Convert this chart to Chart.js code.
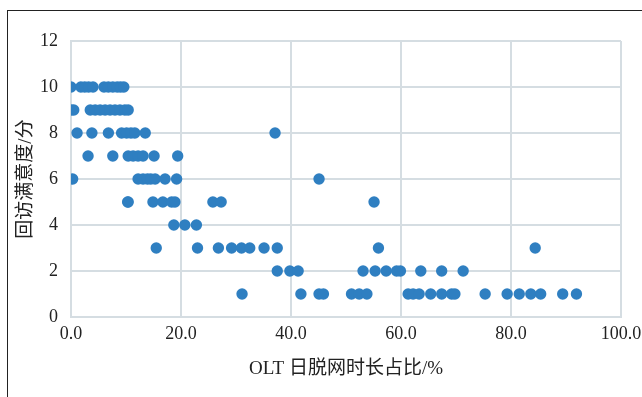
<!DOCTYPE html>
<html>
<head>
<meta charset="utf-8">
<script src="https://cdn.jsdelivr.net/npm/chart.js@4/dist/chart.umd.min.js"></script>
<style>
  html, body { margin: 0; padding: 0; background: #fff; }
  #wrap { position: relative; width: 642px; height: 397px; overflow: hidden; }
  #frame { position: absolute; left: 7px; top: 10px; width: 700px; height: 500px;
           border-left: 1px solid #222; border-top: 1px solid #222; }
  canvas { position: absolute; left: 0; top: 0; }
</style>
</head>
<body>
<div id="wrap">
  <div id="frame"></div>
  <canvas id="c" width="642" height="397"></canvas>
</div>
<script>
// OLT daily offline share (%) of each sample, grouped by its follow-up satisfaction score
const score10 = [0, 1.8, 2.5, 3.2, 4.0, 6.0, 6.8, 7.6, 8.4, 9.0, 9.6];
const score9  = [0, 0.5, 3.5, 4.4, 5.3, 6.2, 7.1, 8.0, 8.9, 9.8, 10.4];
const score8  = [1.1, 3.8, 6.8, 9.2, 10.1, 10.9, 11.6, 13.5, 37.1];
const score7  = [3.1, 7.6, 10.4, 11.3, 12.2, 13.1, 15.1, 19.4];
const score6  = [0.3, 12.2, 13.1, 13.9, 14.5, 15.3, 17.1, 19.2, 45.1];
const score5  = [10.3, 10.4, 14.9, 16.7, 18.3, 18.9, 25.8, 27.3, 55.1];
const score4  = [18.7, 20.7, 22.8];
const score3  = [15.5, 23.0, 26.8, 29.2, 31.0, 32.5, 35.1, 37.5, 55.9, 84.4];
const score2  = [37.5, 39.8, 41.3, 53.1, 55.3, 57.3, 59.2, 59.9, 63.6, 67.4, 71.3];
const score1  = [31.1, 41.8, 45.1, 45.9, 51.0, 52.4, 53.8, 61.3, 62.2, 63.3, 65.4,
                 67.4, 69.2, 69.8, 75.3, 79.3, 81.5, 83.6, 85.4, 89.4, 91.9];

const scoreGroups = [
  [10, score10], [9, score9], [8, score8], [7, score7], [6, score6],
  [5, score5], [4, score4], [3, score3], [2, score2], [1, score1]
];

const xTicks = [0, 20, 40, 60, 80, 100];
const yTicks = [0, 2, 4, 6, 8, 10, 12];
const xTitle = 'OLT 日脱网时长占比/%';
const yTitle = '回访满意度/分';

const points = [];
scoreGroups.forEach(([score, shares]) => {
  shares.forEach(x => points.push({ x: x, y: score }));
});

const gridColor = '#d5dde2';
const textColor = '#222';
const serif = '"Liberation Serif", "Noto Sans CJK SC", serif';

new Chart(document.getElementById('c'), {
  type: 'scatter',
  data: {
    datasets: [{
      data: points,
      backgroundColor: '#2f7fc1',
      borderColor: '#2f7fc1',
      borderWidth: 0,
      pointRadius: 5.7,
      pointHoverRadius: 5.7
    }]
  },
  options: {
    responsive: false,
    animation: false,
    layout: { padding: { left: 2, top: 41, right: 21, bottom: 0 } },
    plugins: { legend: { display: false }, tooltip: { enabled: false } },
    scales: {
      x: {
        type: 'linear',
        min: 0, max: 100,
        afterBuildTicks: s => { s.ticks = xTicks.map(v => ({ value: v })); },
        afterFit: s => { s.height = 80; s.paddingRight = 0; s.paddingLeft = 0; },
        grid: { color: gridColor, lineWidth: 2, drawTicks: false },
        border: { color: gridColor, width: 2 },
        ticks: {
          padding: 6,
          color: textColor,
          font: { family: serif, size: 18 },
          callback: v => Number(v).toFixed(1)
        },
        title: {
          display: true, text: xTitle, color: textColor,
          font: { family: serif, size: 19 },
          padding: { top: 0, bottom: 17 }
        }
      },
      y: {
        type: 'linear',
        min: 0, max: 12,
        afterBuildTicks: s => { s.ticks = yTicks.map(v => ({ value: v })); },
        afterFit: s => { s.width = 69; },
        grid: { color: gridColor, lineWidth: 2, drawTicks: false },
        border: { color: gridColor, width: 2 },
        ticks: {
          padding: 13,
          color: textColor,
          font: { family: serif, size: 18 }
        },
        title: {
          display: true, text: yTitle, color: textColor,
          font: { family: serif, size: 19 },
          padding: { top: 13, bottom: 0 }
        }
      }
    }
  }
});
</script>
</body>
</html>
